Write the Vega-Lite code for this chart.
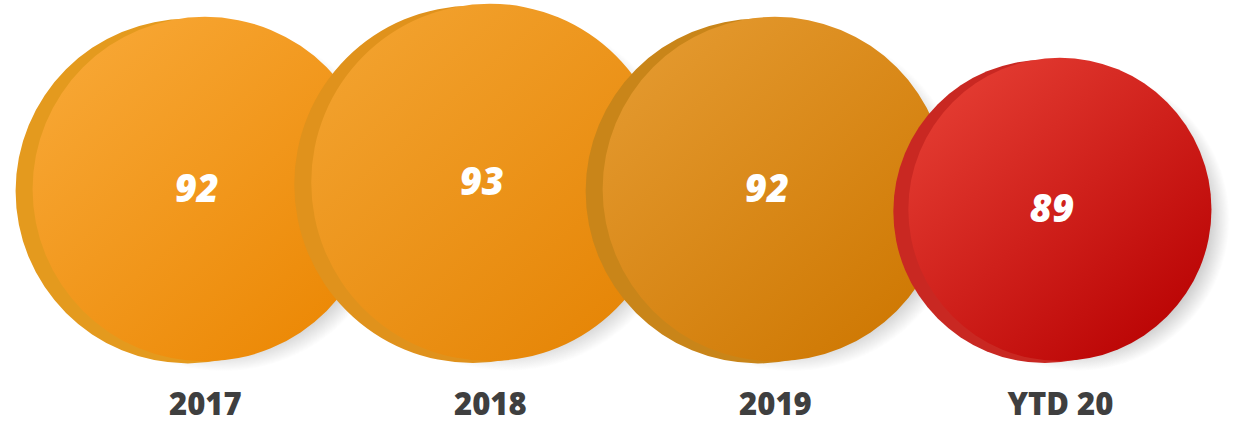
{
  "$schema": "https://vega.github.io/schema/vega-lite/v6.json",
  "width": 1233,
  "height": 385,
  "autosize": {"type": "none"},
  "padding": {"left": 0, "top": 0, "right": 0, "bottom": 40},
  "background": "#ffffff",
  "config": {"view": {"stroke": null}},
  "data": {
    "values": [
      {"period": "2017", "value": 92},
      {"period": "2018", "value": 93},
      {"period": "2019", "value": 92},
      {"period": "YTD 20", "value": 89}
    ]
  },
  "encoding": {
    "x": {
      "field": "period",
      "type": "ordinal",
      "sort": null,
      "scale": {"type": "point", "domain": ["2017", "2018", "2019", "YTD 20"], "padding": 0.663, "align": 0.542},
      "axis": {
        "title": null,
        "domain": false,
        "ticks": false,
        "grid": false,
        "labelAngle": 0,
        "labelFont": "Open Sans",
        "labelFontSize": 31,
        "labelFontWeight": 800,
        "labelColor": "#3f3f3f",
        "labelPadding": 5
      }
    },
    "y": {
      "field": "value",
      "type": "quantitative",
      "scale": {"domain": [63, 120], "zero": false, "nice": false},
      "axis": null
    },
    "size": {
      "field": "value",
      "type": "quantitative",
      "scale": {"domain": [89, 93], "range": [91900, 127600], "zero": false},
      "legend": null
    }
  },
  "layer": [
    {
      "mark": {
        "type": "circle", "opacity": 1, "xOffset": 18, "yOffset": 10,
        "fill": {"gradient": "radial", "x1": 0.5, "y1": 0.5, "r1": 0, "x2": 0.5, "y2": 0.5, "r2": 0.5,
          "stops": [{"offset": 0.85, "color": "rgba(60,60,60,0.28)"}, {"offset": 1, "color": "rgba(60,60,60,0)"}]}
      }
    },
    {
      "transform": [{"filter": "datum.period == '2017'"}],
      "mark": {"type": "circle", "opacity": 1, "xOffset": -17, "yOffset": 2, "fill": "#e49a1e"}
    },
    {
      "transform": [{"filter": "datum.period == '2017'"}],
      "mark": {
        "type": "circle", "opacity": 1,
        "fill": {"gradient": "linear", "x1": 0.15, "y1": 0.1, "x2": 0.85, "y2": 0.9,
          "stops": [{"offset": 0, "color": "#f7a633"}, {"offset": 1, "color": "#ec8906"}]}
      }
    },
    {
      "transform": [{"filter": "datum.period == '2018'"}],
      "mark": {"type": "circle", "opacity": 1, "xOffset": -17, "yOffset": 2, "fill": "#e0921c"}
    },
    {
      "transform": [{"filter": "datum.period == '2018'"}],
      "mark": {
        "type": "circle", "opacity": 1,
        "fill": {"gradient": "linear", "x1": 0.15, "y1": 0.1, "x2": 0.85, "y2": 0.9,
          "stops": [{"offset": 0, "color": "#f2a12d"}, {"offset": 1, "color": "#e68607"}]}
      }
    },
    {
      "transform": [{"filter": "datum.period == '2019'"}],
      "mark": {"type": "circle", "opacity": 1, "xOffset": -17, "yOffset": 2, "fill": "#c98519"}
    },
    {
      "transform": [{"filter": "datum.period == '2019'"}],
      "mark": {
        "type": "circle", "opacity": 1,
        "fill": {"gradient": "linear", "x1": 0.15, "y1": 0.1, "x2": 0.85, "y2": 0.9,
          "stops": [{"offset": 0, "color": "#e3982d"}, {"offset": 1, "color": "#cf7904"}]}
      }
    },
    {
      "transform": [{"filter": "datum.period == 'YTD 20'"}],
      "mark": {"type": "circle", "opacity": 1, "xOffset": -15, "yOffset": 2, "fill": "#c92822"}
    },
    {
      "transform": [{"filter": "datum.period == 'YTD 20'"}],
      "mark": {
        "type": "circle", "opacity": 1,
        "fill": {"gradient": "linear", "x1": 0.15, "y1": 0.1, "x2": 0.85, "y2": 0.9,
          "stops": [{"offset": 0, "color": "#e33b31"}, {"offset": 1, "color": "#bb0505"}]}
      }
    },
    {
      "mark": {
        "type": "text", "font": "Open Sans", "fontWeight": 800, "fontStyle": "italic",
        "color": "#ffffff", "align": "center", "baseline": "middle", "dx": -8, "dy": 2
      },
      "encoding": {
        "text": {"field": "value", "type": "quantitative"},
        "size": {"value": 38}
      }
    }
  ]
}
